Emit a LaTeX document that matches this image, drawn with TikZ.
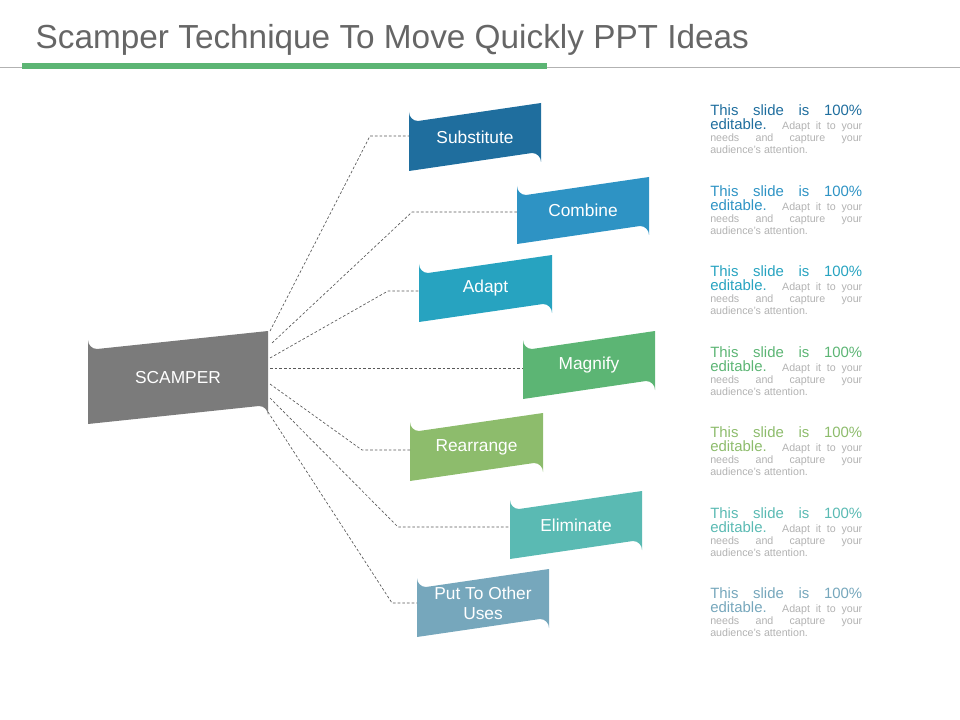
\documentclass[tikz,border=0pt]{standalone}
\usepackage{fontspec}
\setmainfont{Liberation Sans}
\begin{document}
\begin{tikzpicture}[x=0.75pt,y=-0.75pt,
  bx/.style={text=white,font=\fontsize{13}{15}\selectfont,align=center},
  conn/.style={dashed,draw=black!65,line width=0.5pt,dash pattern=on 2pt off 1.5pt},
  desc/.style={anchor=north west,inner sep=0pt,align=left}]
\useasboundingbox (0,0) rectangle (960,720);
\node[anchor=west,text=black!60,font=\fontsize{25}{28}\selectfont] (title) at (31,40) {Scamper Technique To Move Quickly PPT Ideas};
\draw[black!30,line width=0.6pt] (0,67) -- (960,67);
\fill[green!45!black!60!white,fill={rgb,255:red,92;green,181;blue,116}] (22,63) rectangle (547,69);
\newcommand{\rbox}[6]{%
  \fill[#6] (#1,#2) [rounded corners=9pt] -- (#1,#4) [sharp corners] -- (#3,#4) [rounded corners=9pt] -- (#3,#2) [sharp corners]-- cycle;}
\definecolor{c1}{HTML}{1F6E9E}\definecolor{c2}{HTML}{2E93C4}\definecolor{c3}{HTML}{27A3C0}
\definecolor{c4}{HTML}{5CB574}\definecolor{c5}{HTML}{8DBC6C}\definecolor{c6}{HTML}{5ABAB3}
\definecolor{c7}{HTML}{76A7BC}\definecolor{cs}{HTML}{7B7B7B}
% boxes: corner rounding top-left and bottom-right
\foreach \xa/\ya/\xb/\yb/\c in {88/331/268/424/cs,409/103/541/171/c1,517/177/649/244/c2,419/255/552/322/c3,523/331/655/399/c4,410/413/543/481/c5,510/491/642/559/c6,417/569/549/637/c7}{
  \fill[\c] (\xa,\yb) -- (\xa,\ya+9) arc[start angle=180,end angle=90,radius=9] -- (\xb,\ya) -- (\xb,\yb-9) arc[start angle=0,end angle=-90,radius=9] -- cycle;}
\node[bx] (sc) at (178,377.5) {SCAMPER};
\node[bx] (s) at (475,137) {Substitute};
\node[bx] (c) at (583,210.5) {Combine};
\node[bx] (a) at (485.5,288.5) {Adapt};
\node[bx] (m) at (589,365) {Magnify};
\node[bx] (r) at (476.5,447) {Rearrange};
\node[bx] (e) at (576,525) {Eliminate};
\node[bx] (p) at (483,603) {Put To Other\\Uses};
\coordinate (s0) at (270,331); \coordinate (s1) at (370,136); \coordinate (s2) at (409,136);
\coordinate (c0) at (272,343); \coordinate (c1p) at (412,212); \coordinate (c2p) at (517,212);
\coordinate (a0) at (270,358); \coordinate (a1) at (388,291); \coordinate (a2) at (419,291);
\coordinate (m0) at (270,368); \coordinate (m2) at (523,368);
\coordinate (r0) at (270,384); \coordinate (r1) at (362,450); \coordinate (r2) at (410,450);
\coordinate (e0) at (270,398); \coordinate (e1) at (398,527); \coordinate (e2) at (510,527);
\coordinate (p0) at (268,412); \coordinate (p1) at (392,603); \coordinate (p2) at (417,603);
\draw[conn] (s0) -- (s1) -- (s2);
\draw[conn] (c0) -- (c1p) -- (c2p);
\draw[conn] (a0) -- (a1) -- (a2);
\draw[conn] (m0) -- (m2);
\draw[conn] (r0) -- (r1) -- (r2);
\draw[conn] (e0) -- (e1) -- (e2);
\draw[conn] (p0) -- (p1) -- (p2);
\newcommand{\descr}[3]{%
  \node[desc] (#3) at (710,#1) {%
    {\color{#2}\fontsize{11.2}{14.5}\selectfont\makebox[114pt][s]{This slide is 100\%}}\\[-1pt]
    \makebox[114pt][s]{{\color{#2}\fontsize{11.2}{14.5}\selectfont editable.} {\color{black!30}\fontsize{8}{11}\selectfont Adapt it to your}}\\[-3pt]
    {\color{black!30}\fontsize{8}{11}\selectfont\makebox[114pt][s]{needs and capture your}}\\[-3pt]
    {\color{black!30}\fontsize{8}{11}\selectfont audience's attention.}};}
\descr{104}{c1}{d1}
\descr{185}{c2}{d2}
\descr{265}{c3}{d3}
\descr{346}{c4}{d4}
\descr{426}{c5}{d5}
\descr{507}{c6}{d6}
\descr{587}{c7}{d7}
\end{tikzpicture}
\end{document}
